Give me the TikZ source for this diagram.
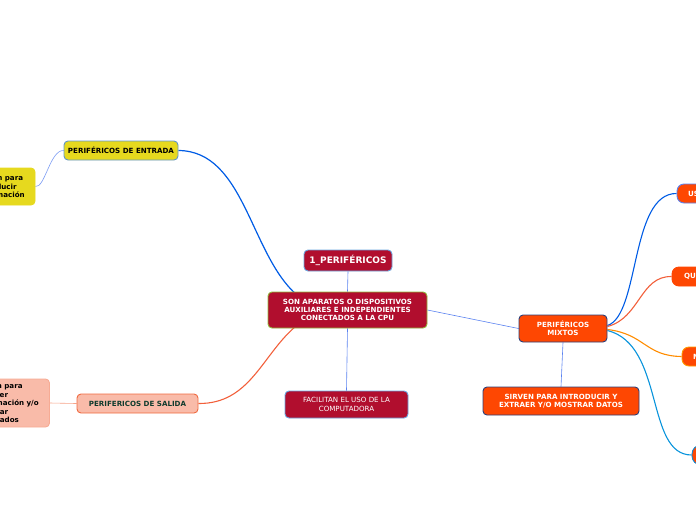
\documentclass[tikz,border=0pt]{standalone}
\usepackage{fontspec}
\setmainfont{DejaVu Sans}
\usetikzlibrary{backgrounds}
\definecolor{crim}{HTML}{B10E2E}
\definecolor{orng}{HTML}{FE4702}
\definecolor{yel}{HTML}{E6D91E}
\definecolor{salm}{HTML}{F9BBA9}
\definecolor{salmb}{HTML}{F06A40}
\definecolor{navy}{HTML}{2B3F7A}
\definecolor{lblue}{HTML}{6AA6E0}
\definecolor{olive}{HTML}{8FB83A}
\definecolor{thinblue}{HTML}{5A82F0}
\definecolor{dkgreen}{HTML}{0F3B2D}
\tikzset{
  box/.style={draw, rounded corners=4pt, line width=0.9pt, inner sep=0pt, align=center,
    font=\fontsize{7.1}{8.2}\selectfont\bfseries},
  thin/.style={draw=thinblue, line width=0.6pt},
}
\begin{document}
\begin{tikzpicture}[x=1pt,y=-1pt]
\useasboundingbox (0,0) rectangle (696,520);
\clip (0,0) rectangle (696,520);
% nodes
\node[box, fill=crim, draw=lblue, text=white, minimum width=88, minimum height=21,
  font=\fontsize{9}{10}\selectfont\bfseries] (title) at (348,260.5) {1\_PERIFÉRICOS};
\node[box, fill=crim, draw=olive, text=white, minimum width=159, minimum height=36,
  font=\fontsize{7.1}{8}\selectfont\bfseries] (center) at (347.5,310)
  {SON APARATOS O DISPOSITIVOS\\AUXILIARES E INDEPENDIENTES\\CONECTADOS A LA CPU};
\node[box, fill=crim, draw=lblue, text=white, minimum width=123, minimum height=27,
  font=\fontsize{7.1}{8.4}\selectfont] (facil) at (346.5,404.5) {FACILITAN EL USO DE LA\\COMPUTADORA};
\node[box, fill=yel, draw=lblue!90!black, text=black, minimum width=114, minimum height=19] (entrada) at (121,150.5)
  {PERIFÉRICOS DE ENTRADA};
\node[box, fill=yel, draw=yel, text=black, text width=55, inner xsep=3, align=left, minimum height=37,
  font=\fontsize{7.1}{8.3}\selectfont\bfseries] (ent1) at (4.5,186.5)
  {Sirven para\\introducir\\información};
\node[box, fill=salm, draw=salmb, text=dkgreen, minimum width=121, minimum height=19] (salida) at (137.5,403.5)
  {PERIFERICOS DE SALIDA};
\node[box, fill=salm, draw=salm!80!salmb, text=black, text width=68, inner xsep=5, align=left, minimum height=48,
  font=\fontsize{7.1}{8.5}\selectfont\bfseries] (sal1) at (10.5,403)
  {Sirven para\\obtener\\información y/o\\mostrar\\resultados};
\node[box, fill=orng, draw=navy, text=white, minimum width=88, minimum height=27] (mixtos) at (563,328.5)
  {PERIFÉRICOS\\MIXTOS};
\node[box, fill=orng, draw=navy, text=white, minimum width=156, minimum height=28] (sirven) at (561,401)
  {SIRVEN PARA INTRODUCIR Y\\EXTRAER Y/O MOSTRAR DATOS};
\node[box, rounded corners=7pt, fill=orng, draw=thinblue, text=white, text width=38, inner xsep=11, align=left,
  minimum height=19] (us) at (707,193.5) {US};
\node[box, rounded corners=7pt, fill=orng, draw=orng, text=white, text width=36, inner xsep=12, align=left,
  minimum height=19] (qu) at (702,276.5) {QU};
\node[box, rounded corners=7pt, fill=orng, draw=orange!80!yellow, text=white, text width=38, inner xsep=11, align=left,
  minimum height=19] (m) at (712,356.5) {M};
\node[box, rounded corners=9pt, fill=orng, draw=cyan!70!blue, minimum width=40, minimum height=20] (bot) at (712,455) {};
% connectors
\begin{pgfonlayer}{background}
\draw[thin] (title.south) -- (center.north);
\draw[thin] (center.south) -- (facil.north);
\draw[thin] (center.east) -- (mixtos.west);
\draw[thin] (mixtos.south) -- (sirven.north);
\draw[thin, draw=thinblue!80] (ent1.east) .. controls (45,188) and (50,150) .. (entrada.west);
\draw[draw=salm!70!salmb, line width=0.6pt] (sal1.east) -- (salida.west);
\draw[draw=blue!60!cyan!90!black, line width=1.2pt] (entrada.east) .. controls (245,151) and (250,255) .. ([xshift=30pt,yshift=-4pt]center.north west);
\draw[draw=salmb!90!red, line width=1.1pt] (salida.east) .. controls (250,404) and (262,355) .. ([xshift=28pt,yshift=2pt]center.south west);
\draw[draw=blue!60!cyan!90!black, line width=1.1pt] ([yshift=3pt]mixtos.east) .. controls (640,315) and (630,193) .. (us.west);
\draw[draw=salmb!90!red, line width=1.1pt] ([yshift=2pt]mixtos.east) .. controls (640,318) and (640,276) .. (qu.west);
\draw[draw=orange!90!yellow, line width=1.1pt] ([yshift=-1pt]mixtos.east) .. controls (645,334) and (645,356) .. (m.west);
\draw[draw=cyan!80!blue, line width=1.1pt] ([yshift=-2pt]mixtos.east) .. controls (665,345) and (645,455) .. (bot.west);
\end{pgfonlayer}
\end{tikzpicture}
\end{document}
